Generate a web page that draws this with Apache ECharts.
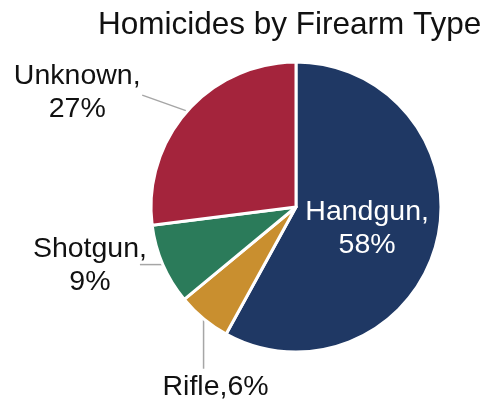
<!DOCTYPE html>
<html><head><meta charset="utf-8">
<script src="https://cdn.jsdelivr.net/npm/echarts@6/dist/echarts.min.js"></script>
<style>html,body{margin:0;padding:0;background:#fff}#c{width:487px;height:404px}</style>
</head><body><div id="c"></div>
<script>
var categories = ['Handgun', 'Rifle', 'Shotgun', 'Unknown'];
var values = [58, 6, 9, 27];
var colors = ['#1f3864', '#c98f2f', '#2b7b5a', '#a4243c'];
// label offsets relative to the slice's outer anchor point (label centre, line end)
var labelOffsets = {
  Rifle:   {lx: 12, ly: 68, ex: 0, ey: 50},
  Shotgun: {lx: -73, ly: 1, ex: -23, ey: 0},
  Unknown: {lx: -110, ly: -18, ex: -45, ey: -16}
};
var chart = echarts.init(document.getElementById('c'));
var data = categories.map(function (c, i) {
  var item = {name: c, value: values[i], itemStyle: {color: colors[i]}};
  if (c === 'Handgun') {
    item.label = {position: 'inside', color: '#ffffff', offset: [-2, 3]};
  }
  return item;
});
chart.setOption({
  animation: false,
  title: {
    text: 'Homicides by Firearm Type',
    left: 93, top: 4,
    textStyle: {fontFamily: 'Liberation Sans', fontSize: 31.5, fontWeight: 'normal', color: '#111'}
  },
  series: [{
    type: 'pie',
    center: [296, 207],
    radius: 145,
    startAngle: 90,
    clockwise: true,
    itemStyle: {borderColor: '#ffffff', borderWidth: 3},
    label: {
      show: true,
      position: 'outside',
      overflow: 'none',
      formatter: function (p) {
        return p.name === 'Rifle' ? p.name + ',' + p.value + '%' : p.name + ',\n' + p.value + '%';
      },
      fontFamily: 'Liberation Sans', fontSize: 28.5, color: '#111',
      lineHeight: 33, align: 'center'
    },
    labelLine: {show: true, lineStyle: {color: '#a6a6a6', width: 1.5}},
    labelLayout: function (params) {
      var name = categories[params.dataIndex];
      var o = labelOffsets[name];
      if (!o || !params.labelLinePoints) return {};
      var a = params.labelLinePoints[0];
      var end = [a[0] + o.ex, a[1] + o.ey];
      return {
        x: a[0] + o.lx, y: a[1] + o.ly,
        align: 'center', verticalAlign: 'middle',
        labelLinePoints: [a, end, end]
      };
    },
    data: data
  }]
});
</script></body></html>
